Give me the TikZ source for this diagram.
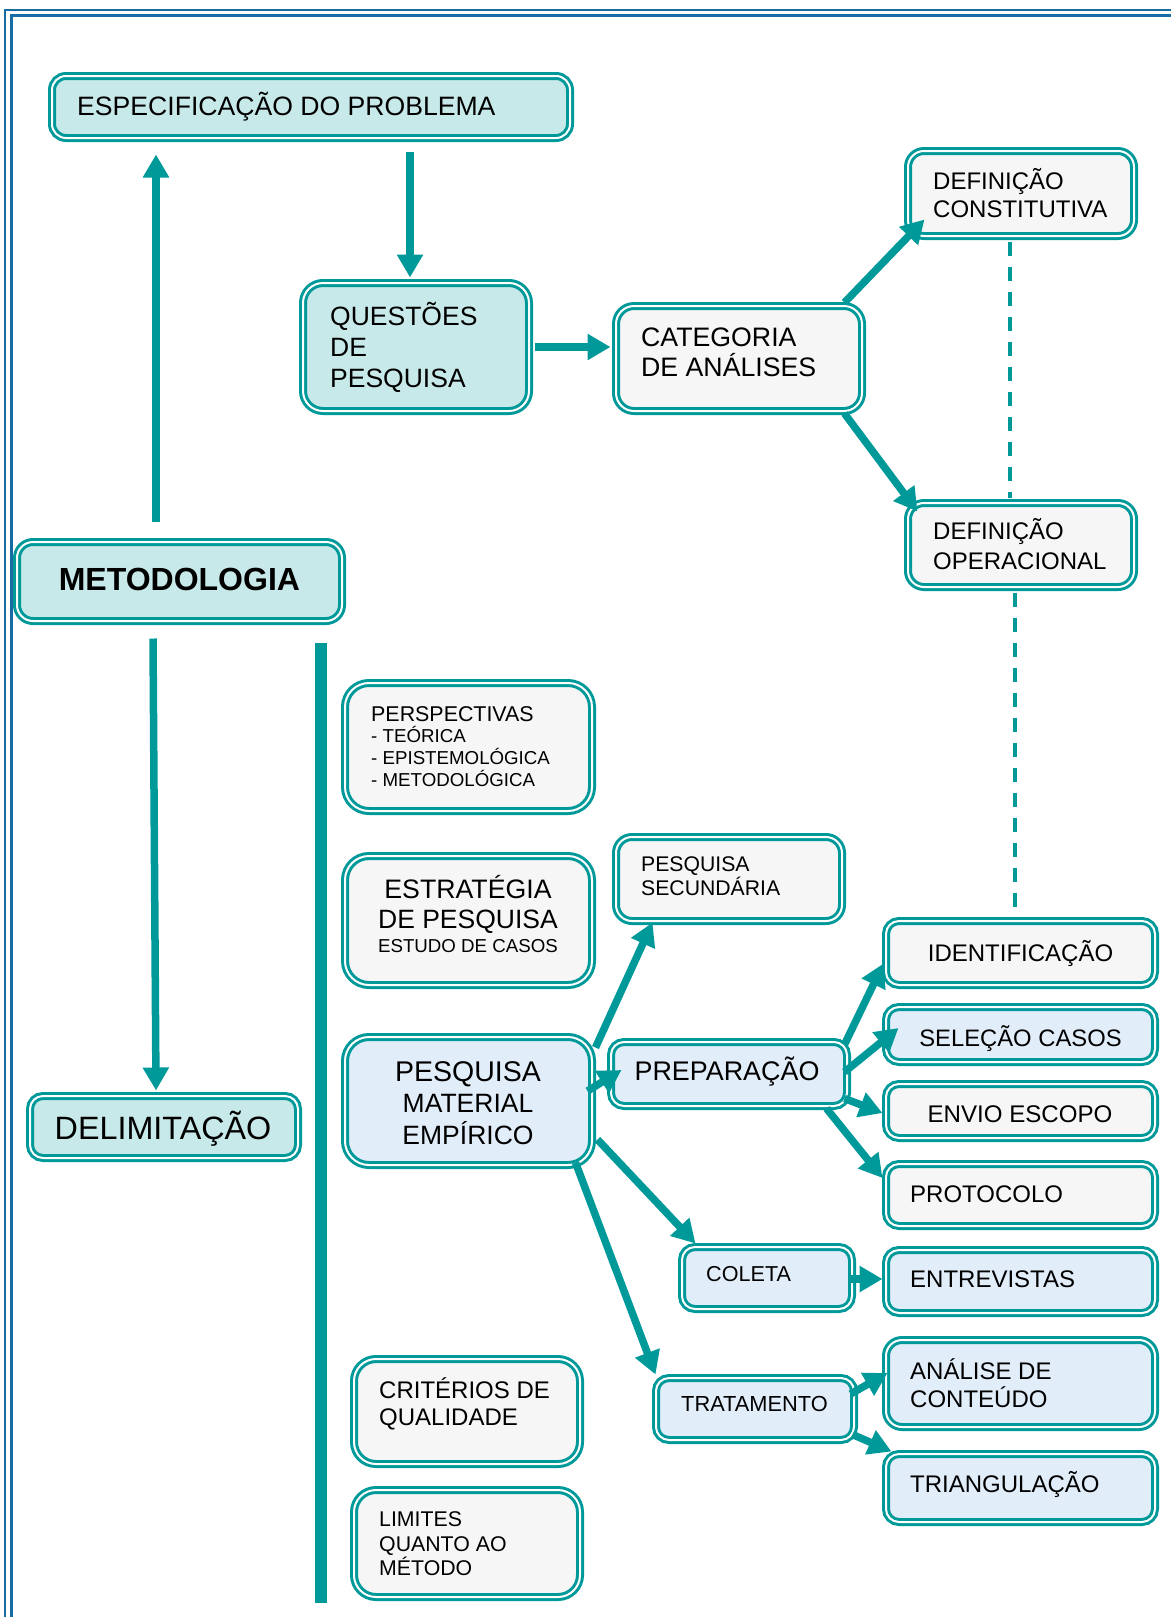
\documentclass[tikz,border=0pt]{standalone}
\usepackage{fontspec}
\setmainfont{Liberation Sans}
\usetikzlibrary{arrows.meta,calc}

\definecolor{teal0}{RGB}{0,153,153}
\definecolor{tealfill}{RGB}{200,233,233}
\definecolor{bluefill}{RGB}{226,237,250}
\definecolor{grayfill}{RGB}{246,246,246}
\definecolor{framebl}{RGB}{24,108,164}

\tikzset{
  panel/.style={shape=rectangle, draw=teal0, line width=3pt, double=white,
    double distance=2pt, rounded corners=#1, inner sep=0pt},
  panel/.default=12pt,
  tpanel/.style={panel=#1, fill=tealfill}, tpanel/.default=12pt,
  bpanel/.style={panel=#1, fill=bluefill}, bpanel/.default=12pt,
  gpanel/.style={panel=#1, fill=grayfill}, gpanel/.default=12pt,
  lbl/.style={inner sep=0pt, anchor=base west, text=black},
  clbl/.style={inner sep=0pt, anchor=base, text=black},
  flow/.style={draw=teal0, line width=7.5pt, -{Triangle[length=23pt,width=25pt]}},
  link/.style={draw=teal0, line width=3.5pt, dash pattern=on 14pt off 11pt},
  frameline/.style={draw=framebl},
}

\begin{document}
\begin{tikzpicture}[x=1pt,y=-1pt]
\useasboundingbox (0,0) rectangle (1171,1617);

% page frame (double rule on top and left)
\draw[frameline, line width=2pt] (5.3,1617) -- (5.3,10) -- (1171,10);
\draw[frameline, line width=2.7pt] (11.3,1617) -- (11.3,15.3) -- (1171,15.3);

% separator bar
\fill[teal0] (315,643) rectangle (327,1603);

% ---- boxes ----
\node[tpanel=14pt, minimum width=518pt, minimum height=62pt] (espec) at (311,107) {};
\node[tpanel=20pt, minimum width=226pt, minimum height=128pt] (quest) at (416,347) {};
\node[gpanel=18pt, minimum width=246pt, minimum height=105pt] (categ) at (739,358.5) {};
\node[gpanel=16pt, minimum width=226pt, minimum height=85pt] (defcon) at (1021,193.5) {};
\node[gpanel=16pt, minimum width=226pt, minimum height=84pt] (defop) at (1021,545) {};
\node[tpanel=16pt, minimum width=325pt, minimum height=79pt] (metod) at (179.5,581.5) {};
\node[tpanel=13pt, minimum width=268pt, minimum height=62pt] (delim) at (164,1127) {};

\node[gpanel=24pt, minimum width=247pt, minimum height=128pt] (persp) at (468.5,747) {};
\node[gpanel=24pt, minimum width=247pt, minimum height=129pt] (estrat) at (468.5,920.5) {};
\node[gpanel=16pt, minimum width=226pt, minimum height=84pt] (pesqsec) at (729,879) {};
\node[bpanel=24pt, minimum width=247pt, minimum height=128pt] (pesqmat) at (468.5,1101) {};
\node[bpanel=13pt, minimum width=236pt, minimum height=64pt] (prep) at (729,1074) {};
\node[bpanel=13pt, minimum width=170pt, minimum height=62pt] (coleta) at (767,1278) {};
\node[bpanel=13pt, minimum width=198pt, minimum height=62pt] (trat) at (755,1409) {};
\node[gpanel=22pt, minimum width=226pt, minimum height=105pt] (crit) at (467,1411.5) {};
\node[gpanel=22pt, minimum width=226pt, minimum height=107pt] (limit) at (467,1543.5) {};

\node[gpanel=13pt, minimum width=269pt, minimum height=64pt] (ident) at (1020.5,953) {};
\node[bpanel=13pt, minimum width=269pt, minimum height=55pt] (selec) at (1020.5,1034.5) {};
\node[gpanel=13pt, minimum width=269pt, minimum height=54pt] (envio) at (1020.5,1111) {};
\node[gpanel=13pt, minimum width=269pt, minimum height=62pt] (proto) at (1020.5,1195) {};
\node[bpanel=13pt, minimum width=269pt, minimum height=63pt] (entrev) at (1020.5,1281.5) {};
\node[bpanel=16pt, minimum width=269pt, minimum height=87pt] (analise) at (1020.5,1383.5) {};
\node[bpanel=13pt, minimum width=269pt, minimum height=68pt] (triang) at (1020.5,1488) {};

% ---- texts ----
\node[lbl, font=\fontsize{26.6}{30}\selectfont] (espec-t) at (77,115) {ESPECIFICAÇÃO DO PROBLEMA};

\node[lbl, font=\fontsize{26.5}{30}\selectfont] (quest-t1) at (330,325) {QUESTÕES};
\node[lbl, font=\fontsize{26.5}{30}\selectfont] (quest-t2) at (330,356) {DE};
\node[lbl, font=\fontsize{26.5}{30}\selectfont] (quest-t3) at (330,387) {PESQUISA};

\node[lbl, font=\fontsize{26.7}{30}\selectfont] (categ-t1) at (641,346.6) {CATEGORIA};
\node[lbl, font=\fontsize{26.7}{30}\selectfont] (categ-t2) at (641,376.5) {DE ANÁLISES};

\node[lbl, font=\fontsize{24}{28}\selectfont] (defcon-t1) at (933,189) {DEFINIÇÃO};
\node[lbl, font=\fontsize{24}{28}\selectfont] (defcon-t2) at (933,217) {CONSTITUTIVA};

\node[lbl, font=\fontsize{24}{28}\selectfont] (defop-t1) at (933,539.5) {DEFINIÇÃO};
\node[lbl, font=\fontsize{24}{28}\selectfont] (defop-t2) at (933,569.4) {OPERACIONAL};

\node[clbl, font=\fontsize{32}{35}\selectfont\bfseries] (metod-t) at (179.4,590.8) {METODOLOGIA};
\node[clbl, font=\fontsize{32.3}{35}\selectfont] (delim-t) at (163,1139.3) {DELIMITAÇÃO};

\node[lbl, font=\fontsize{21.4}{24}\selectfont] (persp-t1) at (371,721) {PERSPECTIVAS};
\node[lbl, font=\fontsize{18.7}{21}\selectfont] (persp-t2) at (371,742.5) {- TEÓRICA};
\node[lbl, font=\fontsize{18.7}{21}\selectfont] (persp-t3) at (371,764) {- EPISTEMOLÓGICA};
\node[lbl, font=\fontsize{18.7}{21}\selectfont] (persp-t4) at (371,786.8) {- METODOLÓGICA};

\node[clbl, font=\fontsize{26.7}{30}\selectfont] (estrat-t1) at (468,898) {ESTRATÉGIA};
\node[clbl, font=\fontsize{26.5}{30}\selectfont] (estrat-t2) at (468,928) {DE PESQUISA};
\node[clbl, font=\fontsize{18.7}{21}\selectfont] (estrat-t3) at (468,952) {ESTUDO DE CASOS};

\node[lbl, font=\fontsize{21.2}{24}\selectfont] (pesqsec-t1) at (641,871.4) {PESQUISA};
\node[lbl, font=\fontsize{21.2}{24}\selectfont] (pesqsec-t2) at (641,895) {SECUNDÁRIA};

\node[clbl, font=\fontsize{28.5}{31}\selectfont] (pesqmat-t1) at (468,1081) {PESQUISA};
\node[clbl, font=\fontsize{26.5}{30}\selectfont] (pesqmat-t2) at (468,1112) {MATERIAL};
\node[clbl, font=\fontsize{26.5}{30}\selectfont] (pesqmat-t3) at (468,1144) {EMPÍRICO};

\node[clbl, font=\fontsize{26.9}{30}\selectfont] (prep-t) at (727,1080.8) {PREPARAÇÃO};
\node[lbl, font=\fontsize{21.6}{24}\selectfont] (coleta-t) at (706,1281.7) {COLETA};
\node[lbl, font=\fontsize{21.8}{24}\selectfont] (trat-t) at (681,1411.8) {TRATAMENTO};

\node[lbl, font=\fontsize{24}{27}\selectfont] (crit-t1) at (379,1398) {CRITÉRIOS DE};
\node[lbl, font=\fontsize{24}{27}\selectfont] (crit-t2) at (379,1425) {QUALIDADE};

\node[lbl, font=\fontsize{21.3}{24}\selectfont] (limit-t1) at (379,1526) {LIMITES};
\node[lbl, font=\fontsize{21.3}{24}\selectfont] (limit-t2) at (379,1551) {QUANTO AO};
\node[lbl, font=\fontsize{21.3}{24}\selectfont] (limit-t3) at (379,1575.5) {MÉTODO};

\node[clbl, font=\fontsize{24}{27}\selectfont] (ident-t) at (1020.5,961) {IDENTIFICAÇÃO};
\node[clbl, font=\fontsize{23.8}{27}\selectfont] (selec-t) at (1020.5,1046.5) {SELEÇÃO CASOS};
\node[clbl, font=\fontsize{24.1}{27}\selectfont] (envio-t) at (1020,1122) {ENVIO ESCOPO};
\node[lbl, font=\fontsize{24}{27}\selectfont] (proto-t) at (910,1202) {PROTOCOLO};
\node[lbl, font=\fontsize{24}{27}\selectfont] (entrev-t) at (910,1287.6) {ENTREVISTAS};
\node[lbl, font=\fontsize{24}{27}\selectfont] (analise-t1) at (910,1379.6) {ANÁLISE DE};
\node[lbl, font=\fontsize{24}{27}\selectfont] (analise-t2) at (910,1407.5) {CONTEÚDO};
\node[lbl, font=\fontsize{24}{27}\selectfont] (triang-t) at (910,1492.7) {TRIANGULAÇÃO};

% ---- connectors ----
\draw[flow] ($(metod.north)+(-23.5,-19)$) -- ($(espec.south)+(-155,15)$);
\draw[flow] ($(espec.south)+(99,12)$) -- ($(quest.north)+(-6,-4)$);
\draw[flow] ($(quest.east)+(4,0)$) -- ($(categ.west)+(-4,-11.5)$);
\draw[flow] ($(categ.north east)+(-19,-2)$) -- ($(defcon.south west)+(18,-18)$);
\draw[flow] ($(categ.south east)+(-19,1)$) -- ($(defop.north west)+(11,10)$);
\draw[link] ($(defcon.south)+(-11,4)$) -- ($(defop.north)+(-11,-4)$);
\draw[link] ($(defop.south)+(-6,4)$) -- ($(ident.north)+(-5.5,-4)$);
\draw[flow] ($(metod.south)+(-26.5,16)$) -- ($(delim.north)+(-8,-4)$);

\draw[flow] ($(pesqmat.north east)+(2,12)$) -- ($(pesqsec.south west)+(38,0)$);
\draw[flow] ($(pesqmat.east)+(-6,-10)$) -- ($(prep.west)+(12,-4)$);
\draw[flow] ($(pesqmat.south east)+(4,-27)$) -- ($(coleta.north west)+(15,-2)$);
\draw[flow] ($(pesqmat.south east)+(-18,-4)$) -- ($(trat.north west)+(1,-2)$);

\draw[flow] ($(prep.north east)+(-4,4)$) -- ($(ident.south west)+(-1,-23)$);
\draw[flow] ($(prep.east)+(-4,-2)$) -- ($(selec.west)+(14,-6.5)$);
\draw[flow] ($(prep.south east)+(-4,-9)$) -- ($(envio.west)+(-2,2)$);
\draw[flow] ($(prep.south east)+(-22,1)$) -- ($(proto.west)+(-2,-17)$);
\draw[flow] ($(coleta.east)+(-6,1)$) -- ($(entrev.west)+(-2,-2.5)$);
\draw[flow] ($(trat.east)+(-5,-15)$) -- ($(analise.west)+(3,-10.5)$);
\draw[flow] ($(trat.south east)+(-3,-7)$) -- ($(triang.north west)+(7,-1)$);
\end{tikzpicture}
\end{document}
